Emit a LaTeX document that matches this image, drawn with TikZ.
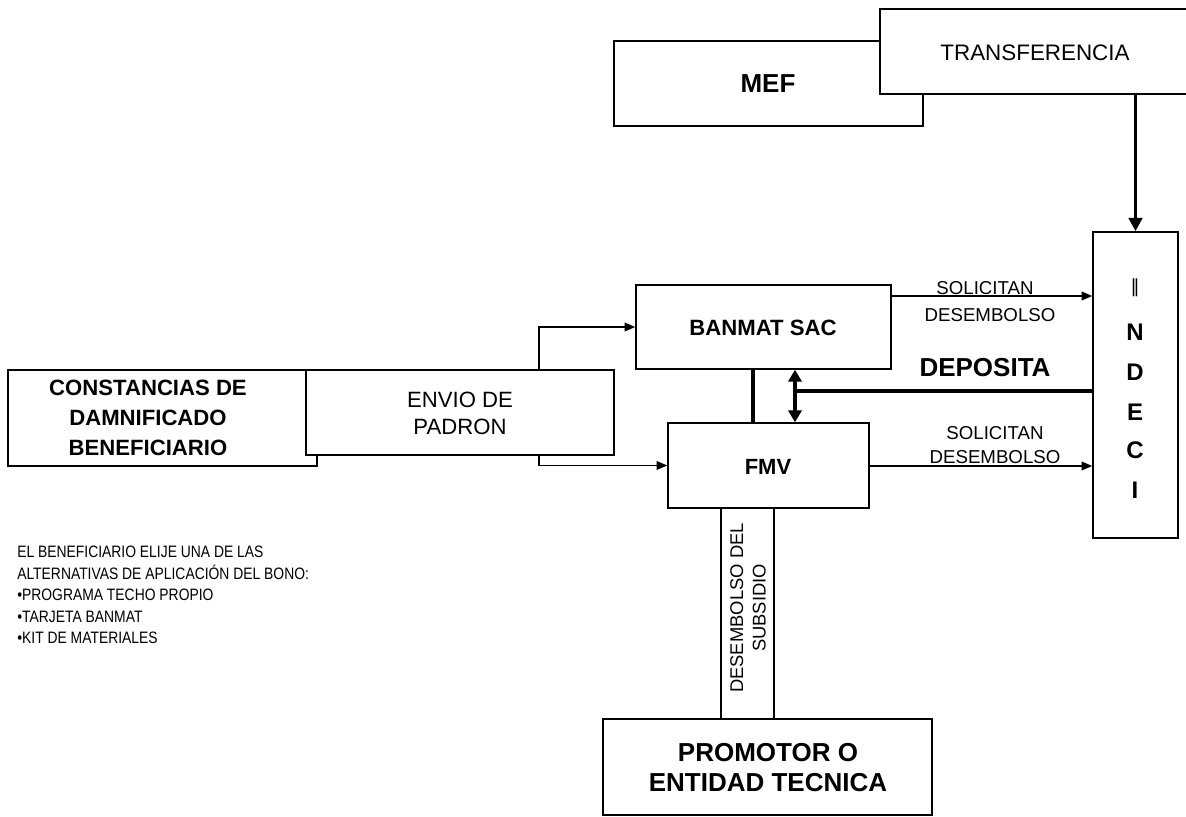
\documentclass[tikz,border=0pt]{standalone}
\usepackage{fontspec}
\setmainfont{Liberation Sans}
\newfontfamily\narrowfont[FakeStretch=0.84]{Liberation Sans}
\newfontfamily\dejavufont{DejaVu Sans}
\usetikzlibrary{arrows.meta,fit}
\tikzset{
  box/.style={draw, line width=1.1pt, fill=white, inner sep=0pt},
  lbl/.style={inner sep=0pt, align=center},
  arr/.style={line width=1.1pt, -{Triangle[length=8pt,width=6.5pt]}},
  heavy/.style={line width=3.2pt},
  fsA/.style={font=\fontsize{16.6}{20.25}\selectfont},
  fsAb/.style={font=\bfseries\fontsize{16.6}{22.5}\selectfont},
  fsB/.style={font=\bfseries\fontsize{19.5}{22.5}\selectfont},
  fsS/.style={font=\fontsize{14}{18}\selectfont},
}
\begin{document}
\begin{tikzpicture}[x=0.75pt,y=-0.75pt]
\useasboundingbox (0,0) rectangle (1186,817);
\clip (0,0) rectangle (1186,817);
\fill[white] (0,0) rectangle (1186,817);

% MEF and TRANSFERENCIA
\node[box, fit={(614,41) (923,126)}] (mef) {};
\node[lbl, fsB] (meft) at (768,84) {MEF};
\node[box, fit={(880,9) (1192,94)}] (transf) {};
\node[lbl, font=\fontsize{16.8}{20}\selectfont] (transft) at (1035,53) {TRANSFERENCIA};

% CONSTANCIAS and ENVIO
\node[box, fit={(8,370) (317,466)}] (const) {};
\node[lbl, fsAb] (constt) at (148,418) {CONSTANCIAS DE\\DAMNIFICADO\\BENEFICIARIO};
\node[box, fit={(306,370) (614,455)}] (envio) {};
\node[lbl, fsA] (enviot) at (460,413) {ENVIO DE\\PADRON};

% BANMAT, FMV
\node[box, fit={(636,285) (891,369)}] (banmat) {};
\node[lbl, font=\bfseries\fontsize{16.6}{20}\selectfont] (banmatt) at (763,328) {BANMAT SAC};
\node[box, fit={(668,423) (869,508)}] (fmv) {};
\node[lbl, font=\bfseries\fontsize{16.5}{20}\selectfont] (fmvt) at (768,467) {FMV};

% INDECI
\node[box, fit={(1093,232) (1178,538)}] (indeci) {};
\node[lbl, font=\dejavufont\fontsize{13.5}{16}\selectfont] (i0) at (1135,288) {‖};
\node[lbl, font=\bfseries\fontsize{18}{20}\selectfont] (i1) at (1135,332) {N};
\node[lbl, font=\bfseries\fontsize{18}{20}\selectfont] (i2) at (1135,372) {D};
\node[lbl, font=\bfseries\fontsize{18}{20}\selectfont] (i3) at (1135,412) {E};
\node[lbl, font=\bfseries\fontsize{18}{20}\selectfont] (i4) at (1135,450) {C};
\node[lbl, font=\bfseries\fontsize{18}{20}\selectfont] (i5) at (1135,490) {I};

% PROMOTOR and strip
\node[box, fit={(603,719) (932,815)}] (prom) {};
\node[lbl, fsB] (promt) at (768,768) {PROMOTOR O\\ENTIDAD TECNICA};
\node[box, fit={(721,508) (774,719)}] (strip) {};
\node[lbl, rotate=90, font=\fontsize{13.8}{17}\selectfont] (stript) at (748,608) {DESEMBOLSO DEL\\SUBSIDIO};

% list
\node[lbl, anchor=north west, align=left, font=\narrowfont\fontsize{12.4}{16.1}\selectfont] (list) at (17,546)
  {EL BENEFICIARIO ELIJE UNA DE LAS\\ALTERNATIVAS DE APLICACIÓN DEL BONO:\\•PROGRAMA TECHO PROPIO\\•TARJETA BANMAT\\•KIT DE MATERIALES};

% connectors
\draw[arr] (envio.north -| 539,0) |- (banmat.west);
\draw[arr] (envio.south -| 539,0) |- (fmv.west);
\draw[arr] (banmat.east |- 0,296) -- (indeci.west |- 0,296);
\draw[arr] (fmv.east |- 0,466) -- (indeci.west |- 0,466);
\draw[heavy] (banmat.south -| 753,0) -- (fmv.north -| 753,0);
\draw[line width=2.6pt, {Triangle[length=9pt,width=10pt]}-{Triangle[length=9pt,width=10pt]}] (banmat.south -| 795,0) -- (fmv.north -| 795,0);
\coordinate (dj) at (794,391);
\draw[heavy] (dj) -- (indeci.west |- dj);
\draw[line width=2.6pt, -{Triangle[length=10pt,width=10pt]}] (transf.south -| indeci.north) -- (indeci.north);

% labels
\node[lbl, fsS] (sol1) at (985,288) {SOLICITAN};
\node[lbl, fsS] (des1) at (990,315) {DESEMBOLSO};
\node[lbl, fsB] (dep) at (985,368) {DEPOSITA};
\node[lbl, fsS] (sol2) at (995,433) {SOLICITAN};
\node[lbl, fsS] (des2) at (995,457) {DESEMBOLSO};
\end{tikzpicture}
\end{document}
